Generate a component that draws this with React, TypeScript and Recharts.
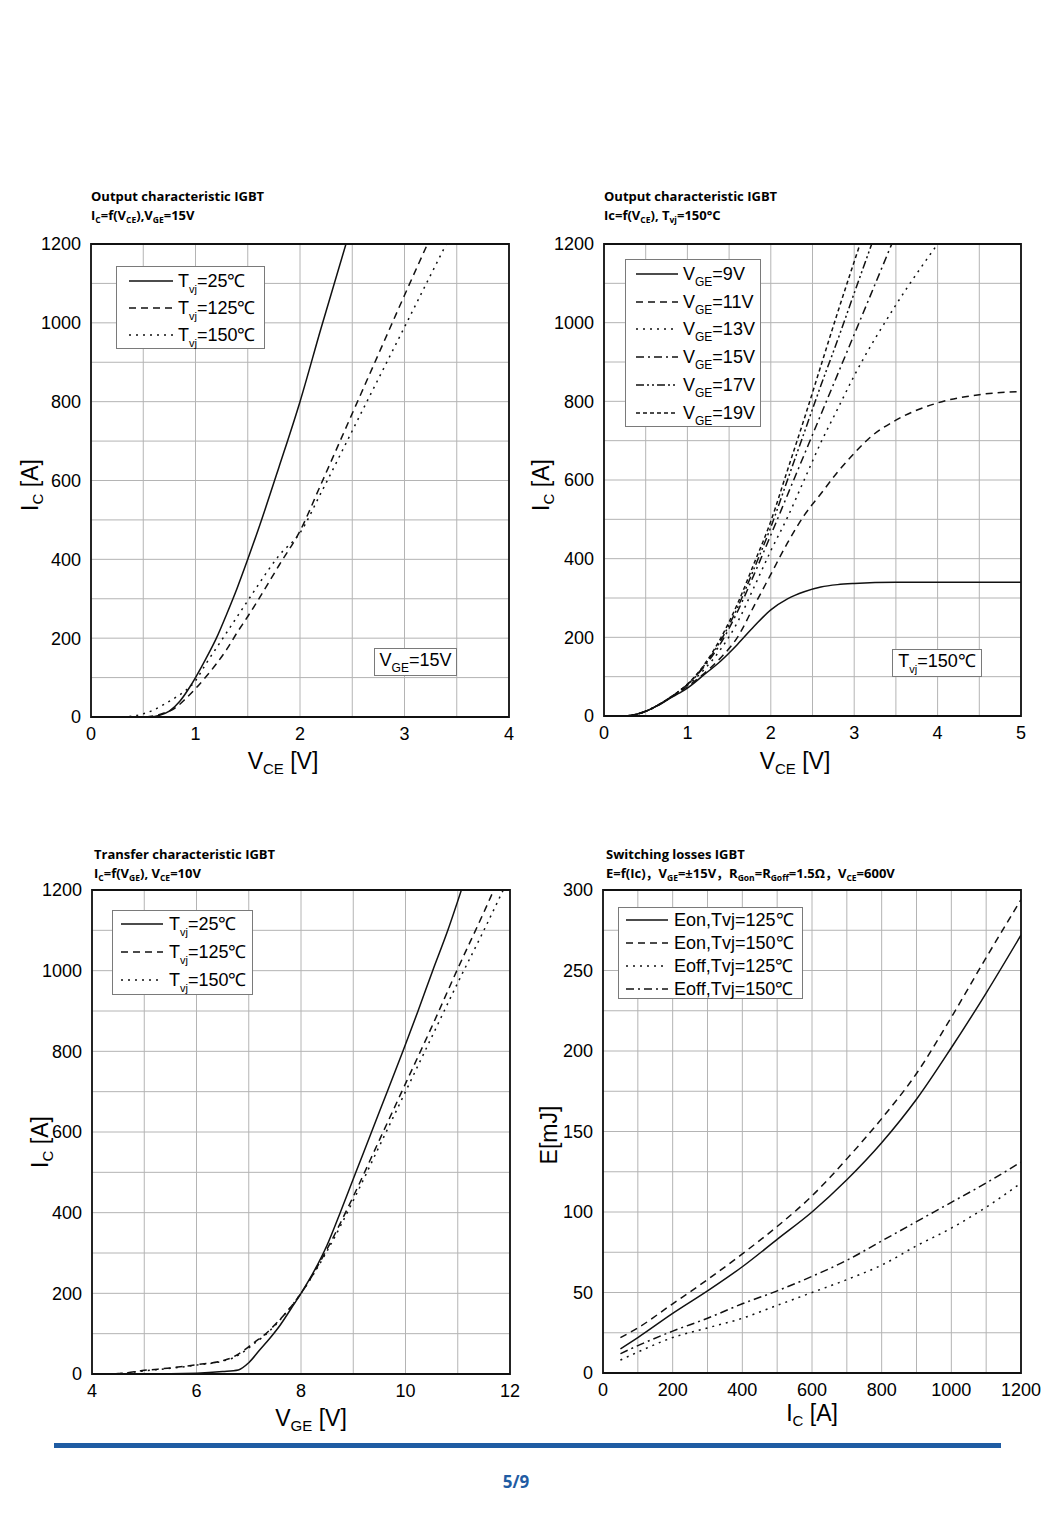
import React from "react";
import { CartesianGrid, Line, LineChart, ReferenceArea, XAxis, YAxis } from "recharts";

const AXIS_FONT = '"Liberation Sans", Arial, sans-serif';
const TITLE_FONT = '"Open Sans", "Noto Sans CJK SC", "Noto Sans", sans-serif';

// --- Output characteristic, VGE = 15V (Ic vs Vce) ---
const oc25V = [0.3, 0.55, 0.65, 0.75, 0.85, 0.95, 1.0, 1.1, 1.2, 1.3, 1.4, 1.5, 1.6, 1.8, 2.0, 2.2, 2.44];
const oc25I = [0, 0, 4, 15, 40, 78, 100, 148, 200, 262, 328, 400, 475, 635, 800, 985, 1200];
const oc125V = [0.3, 0.5, 0.6, 0.7, 0.8, 0.9, 1.0, 1.1, 1.2, 1.3, 1.4, 1.5, 1.6, 1.8, 2.0, 2.2, 2.4, 2.6, 2.8, 3.0, 3.22];
const oc125I = [0, 0, 3, 10, 22, 45, 72, 102, 135, 172, 215, 255, 297, 385, 472, 590, 710, 830, 950, 1070, 1200];
const oc150V = [0.3, 0.5, 0.6, 0.7, 0.8, 0.9, 1.0, 1.1, 1.2, 1.3, 1.4, 1.5, 1.6, 1.8, 2.0, 2.2, 2.4, 2.6, 2.8, 3.0, 3.2, 3.4];
const oc150I = [0, 8, 18, 32, 48, 66, 92, 135, 175, 215, 255, 295, 335, 410, 467, 568, 673, 779, 884, 989, 1095, 1200];

// --- Output characteristic, Tvj = 150C, per VGE ---
const vge9V = [0, 0.25, 0.4, 0.5, 0.6, 0.7, 0.8, 0.9, 1.0, 1.2, 1.4, 1.6, 1.8, 2.0, 2.2, 2.4, 2.6, 2.8, 3.0, 3.5, 4.0, 5.0];
const vge9I = [0, 0, 5, 12, 22, 33, 46, 58, 71, 105, 140, 182, 228, 270, 298, 316, 328, 334, 337, 340, 340, 340];
const vge11V = [0, 0.25, 0.4, 0.5, 0.6, 0.7, 0.8, 0.9, 1.0, 1.2, 1.4, 1.6, 1.8, 2.0, 2.2, 2.4, 2.6, 2.8, 3.0, 3.2, 3.5, 4.0, 4.5, 5.0];
const vge11I = [0, 0, 5, 12, 22, 34, 47, 60, 75, 108, 148, 200, 280, 360, 440, 510, 565, 620, 668, 710, 752, 796, 817, 825];
const vge13V = [0, 0.25, 0.4, 0.5, 0.6, 0.7, 0.8, 0.9, 1.0, 1.2, 1.4, 1.6, 1.8, 2.0, 2.2, 2.4, 2.6, 2.8, 3.0, 3.5, 4.0];
const vge13I = [0, 0, 5, 12, 22, 34, 48, 62, 78, 118, 170, 238, 328, 420, 505, 600, 695, 780, 865, 1045, 1200];
const vge15V = [0, 0.25, 0.4, 0.5, 0.6, 0.7, 0.8, 0.9, 1.0, 1.2, 1.4, 1.6, 1.8, 2.0, 2.2, 2.4, 2.6, 2.8, 3.0, 3.2, 3.45];
const vge15I = [0, 0, 5, 12, 22, 34, 48, 63, 80, 125, 185, 265, 360, 460, 562, 664, 766, 868, 970, 1072, 1200];
const vge17V = [0, 0.25, 0.4, 0.5, 0.6, 0.7, 0.8, 0.9, 1.0, 1.2, 1.4, 1.6, 1.8, 2.0, 2.2, 2.4, 2.6, 2.8, 3.0, 3.21];
const vge17I = [0, 0, 5, 12, 22, 34, 48, 63, 80, 128, 192, 275, 375, 480, 600, 720, 840, 955, 1075, 1200];
const vge19V = [0, 0.25, 0.4, 0.5, 0.6, 0.7, 0.8, 0.9, 1.0, 1.2, 1.4, 1.6, 1.8, 2.0, 2.2, 2.4, 2.6, 2.8, 3.07];
const vge19I = [0, 0, 5, 12, 22, 34, 48, 63, 81, 130, 198, 285, 388, 495, 625, 755, 890, 1025, 1200];

// --- Transfer characteristic, VCE = 10V (Ic vs Vge) ---
const tr25V = [4, 5, 6, 6.5, 6.8, 7.0, 7.2, 7.4, 7.6, 7.8, 8.0, 8.25, 8.5, 8.75, 9.05, 9.35, 9.65, 9.95, 10.24, 10.52, 10.81, 11.07];
const tr25I = [0, 0, 2, 6, 10, 28, 58, 88, 121, 160, 200, 255, 320, 400, 500, 600, 700, 800, 900, 1000, 1100, 1200];
const tr125V = [4, 4.5, 5, 5.5, 6, 6.5, 6.7, 6.9, 7.1, 7.3, 7.5, 7.7, 8.0, 8.5, 9.0, 9.5, 10.0, 10.5, 11.0, 11.5, 11.69];
const tr125I = [0, 1, 9, 15, 23, 33, 42, 58, 78, 97, 122, 150, 200, 310, 440, 580, 720, 860, 1005, 1145, 1200];
const tr150V = [4, 4.5, 5, 5.5, 6, 6.5, 6.7, 6.9, 7.1, 7.3, 7.5, 7.7, 8.0, 8.5, 9.0, 9.5, 10.0, 10.5, 11.0, 11.5, 11.87];
const tr150I = [0, 1, 8, 14, 22, 32, 40, 55, 75, 95, 120, 150, 200, 305, 430, 565, 700, 835, 970, 1100, 1200];

// --- Switching losses (E vs Ic) ---
const swIc = [50, 100, 200, 300, 400, 500, 600, 700, 800, 900, 1000, 1100, 1200];
const eon125 = [15, 22, 37, 51, 66, 83, 100, 120, 143, 170, 202, 236, 272];
const eon150 = [22, 28, 43, 58, 74, 91, 110, 133, 158, 186, 221, 258, 294];
const eoff125 = [8, 13, 22, 28, 34, 42, 50, 58, 67, 79, 90, 103, 118];
const eoff150 = [12, 17, 26, 34, 43, 51, 60, 70, 82, 94, 106, 118, 131];

const range = (from: number, to: number, step: number) => {
  const out: number[] = [];
  for (let v = from; v <= to + 1e-9; v += step) out.push(Math.round(v * 1000) / 1000);
  return out;
};

const zip = (xs: number[], ys: number[]) => xs.map((x, i) => ({ x, y: ys[i] }));

const SOLID = undefined;
const DASH = "7 5";
const DOT = "2 5";
const DASH_DOT = "8 4 2 4";
const DASH_DOT_DOT = "8 3 2 3 2 3";
const SHORT_DASH = "4 3";

const Sub = ({ children, size = 11, drop = 6 }: { children: React.ReactNode; size?: number; drop?: number }) => (
  <span style={{ fontSize: size, position: "relative", top: drop, lineHeight: 0 }}>{children}</span>
);

interface Series {
  data: { x: number; y: number }[];
  dash?: string;
}

interface PanelProps {
  left: number;
  top: number;
  width: number;
  height: number;
  marginTop: number;
  marginRight: number;
  yWidth: number;
  xHeight: number;
  xDomain: [number, number];
  xTicks: number[];
  xEvery: number;
  yDomain: [number, number];
  yTicks: number[];
  yEvery: number;
  series: Series[];
}

const every = (step: number) => (v: number) =>
  Math.abs(v / step - Math.round(v / step)) < 1e-6 ? String(v) : "";

function Panel(p: PanelProps) {
  const tick = { fontFamily: AXIS_FONT, fontSize: 18, fill: "#000" };
  return (
    <div style={{ position: "absolute", left: p.left, top: p.top }}>
      <LineChart
        width={p.width}
        height={p.height}
        margin={{ top: p.marginTop, right: p.marginRight, bottom: 0, left: 0 }}
      >
        <CartesianGrid stroke="#b4b4b4" strokeWidth={1} />
        <XAxis
          type="number"
          dataKey="x"
          domain={p.xDomain}
          ticks={p.xTicks}
          tickFormatter={every(p.xEvery)}
          height={p.xHeight}
          allowDataOverflow
          axisLine={false}
          tickLine={false}
          tickMargin={4}
          tick={tick}
          interval={0}
        />
        <YAxis
          type="number"
          dataKey="y"
          domain={p.yDomain}
          ticks={p.yTicks}
          tickFormatter={every(p.yEvery)}
          width={p.yWidth}
          allowDataOverflow
          axisLine={false}
          tickLine={false}
          tickMargin={4}
          tick={tick}
          interval={0}
        />
        {p.series.map((s, i) => (
          <Line
            key={i}
            data={s.data}
            dataKey="y"
            type="monotone"
            stroke="#111"
            strokeWidth={1.5}
            strokeDasharray={s.dash}
            dot={false}
            activeDot={false}
            isAnimationActive={false}
          />
        ))}
        <ReferenceArea
          x1={p.xDomain[0]}
          x2={p.xDomain[1]}
          y1={p.yDomain[0]}
          y2={p.yDomain[1]}
          fill="none"
          fillOpacity={0}
          stroke="#111"
          strokeWidth={1.8}
          ifOverflow="visible"
        />
      </LineChart>
    </div>
  );
}

interface LegendRow {
  dash?: string;
  label: React.ReactNode;
}

function LegendBox(props: {
  box: [number, number, number, number];
  rows: LegendRow[];
  firstY: number;
  rowH: number;
  sampleX: number;
  sampleW: number;
  textX: number;
  fontSize: number;
}) {
  const [left, top, width, height] = props.box;
  return (
    <div
      style={{
        position: "absolute",
        left,
        top,
        width,
        height,
        border: "1px solid #7a7a7a",
        background: "#fff",
        boxSizing: "border-box",
        fontFamily: AXIS_FONT,
      }}
    >
      {props.rows.map((r, i) => (
        <div key={i} style={{ position: "absolute", left: 0, top: props.firstY + i * props.rowH - 14, height: 28, width: "100%" }}>
          <svg style={{ position: "absolute", left: props.sampleX, top: 12 }} width={props.sampleW} height={4}>
            <line x1={0} y1={2} x2={props.sampleW} y2={2} stroke="#111" strokeWidth={1.5} strokeDasharray={r.dash} />
          </svg>
          <div style={{ position: "absolute", left: props.textX, top: 0, lineHeight: "28px", fontSize: props.fontSize, whiteSpace: "nowrap" }}>
            {r.label}
          </div>
        </div>
      ))}
    </div>
  );
}

function Note({ left, top, width, height, children }: { left: number; top: number; width: number; height: number; children: React.ReactNode }) {
  return (
    <div
      style={{
        position: "absolute",
        left,
        top,
        width,
        height,
        border: "1px solid #7a7a7a",
        background: "#fff",
        boxSizing: "border-box",
        fontFamily: AXIS_FONT,
        fontSize: 18,
        lineHeight: `${height - 6}px`,
        textAlign: "center",
        whiteSpace: "nowrap",
      }}
    >
      {children}
    </div>
  );
}

function Title({ left, top, children }: { left: number; top: number; children: React.ReactNode }) {
  return (
    <div style={{ position: "absolute", left, top, fontFamily: TITLE_FONT, fontWeight: 700, fontSize: 13, lineHeight: "19px", whiteSpace: "nowrap" }}>
      {children}
    </div>
  );
}

function AxisTitle({ x, y, rotate, children }: { x: number; y: number; rotate?: boolean; children: React.ReactNode }) {
  return (
    <div
      style={{
        position: "absolute",
        left: x,
        top: y,
        transform: `translate(-50%, -50%)${rotate ? " rotate(-90deg)" : ""}`,
        fontFamily: AXIS_FONT,
        fontSize: 23,
        whiteSpace: "nowrap",
        lineHeight: "26px",
      }}
    >
      {children}
    </div>
  );
}

const ts = { size: 8.5, drop: 3 };

export default function App() {
  const tvjRows = (dashes: (string | undefined)[]) => [
    { dash: dashes[0], label: <>T<Sub>vj</Sub>=25℃</> },
    { dash: dashes[1], label: <>T<Sub>vj</Sub>=125℃</> },
    { dash: dashes[2], label: <>T<Sub>vj</Sub>=150℃</> },
  ];
  const vgeRows: LegendRow[] = [
    { dash: SOLID, label: <>V<Sub size={12}>GE</Sub>=9V</> },
    { dash: DASH, label: <>V<Sub size={12}>GE</Sub>=11V</> },
    { dash: DOT, label: <>V<Sub size={12}>GE</Sub>=13V</> },
    { dash: DASH_DOT, label: <>V<Sub size={12}>GE</Sub>=15V</> },
    { dash: DASH_DOT_DOT, label: <>V<Sub size={12}>GE</Sub>=17V</> },
    { dash: SHORT_DASH, label: <>V<Sub size={12}>GE</Sub>=19V</> },
  ];
  const swRows: LegendRow[] = [
    { dash: SOLID, label: "Eon,Tvj=125℃" },
    { dash: DASH, label: "Eon,Tvj=150℃" },
    { dash: DOT, label: "Eoff,Tvj=125℃" },
    { dash: DASH_DOT, label: "Eoff,Tvj=150℃" },
  ];

  return (
    <div style={{ position: "absolute", left: 0, top: 0, width: 1060, height: 1531, background: "#fff", overflow: "hidden" }}>
      {/* Titles */}
      <Title left={91} top={187}>
        Output characteristic IGBT
        <br />
        I<Sub {...ts}>C</Sub>=f(V<Sub {...ts}>CE</Sub>),V<Sub {...ts}>GE</Sub>=15V
      </Title>
      <Title left={604} top={187}>
        Output characteristic IGBT
        <br />
        Ic=f(V<Sub {...ts}>CE</Sub>), T<Sub {...ts}>vj</Sub>=150°C
      </Title>
      <Title left={94} top={845}>
        Transfer characteristic IGBT
        <br />
        I<Sub {...ts}>C</Sub>=f(V<Sub {...ts}>GE</Sub>), V<Sub {...ts}>CE</Sub>=10V
      </Title>
      <Title left={606} top={845}>
        Switching losses IGBT
        <br />
        E=f(Ic)，V<Sub {...ts}>GE</Sub>=±15V，R<Sub {...ts}>Gon</Sub>=R<Sub {...ts}>Goff</Sub>=1.5Ω，V<Sub {...ts}>CE</Sub>=600V
      </Title>

      {/* Chart 1 */}
      <Panel
        left={0}
        top={230}
        width={530}
        height={560}
        marginTop={14}
        marginRight={21}
        yWidth={91}
        xHeight={73}
        xDomain={[0, 4]}
        xTicks={range(0, 4, 0.5)}
        xEvery={1}
        yDomain={[0, 1200]}
        yTicks={range(0, 1200, 100)}
        yEvery={200}
        series={[
          { data: zip(oc25V, oc25I), dash: SOLID },
          { data: zip(oc125V, oc125I), dash: DASH },
          { data: zip(oc150V, oc150I), dash: DOT },
        ]}
      />
      <LegendBox box={[116, 266, 149, 83]} rows={tvjRows([SOLID, DASH, DOT])} firstY={14} rowH={27} sampleX={12} sampleW={44} textX={61} fontSize={18} />
      <Note left={374} top={648} width={83} height={28}>
        V<Sub size={12}>GE</Sub>=15V
      </Note>
      <AxisTitle x={30} y={485} rotate>
        I<Sub size={15} drop={5}>C</Sub> [A]
      </AxisTitle>
      <AxisTitle x={283} y={761}>
        V<Sub size={15} drop={5}>CE</Sub> [V]
      </AxisTitle>

      {/* Chart 2 */}
      <Panel
        left={520}
        top={230}
        width={540}
        height={560}
        marginTop={14}
        marginRight={39}
        yWidth={84}
        xHeight={74}
        xDomain={[0, 5]}
        xTicks={range(0, 5, 0.5)}
        xEvery={1}
        yDomain={[0, 1200]}
        yTicks={range(0, 1200, 100)}
        yEvery={200}
        series={[
          { data: zip(vge9V, vge9I), dash: SOLID },
          { data: zip(vge11V, vge11I), dash: DASH },
          { data: zip(vge13V, vge13I), dash: DOT },
          { data: zip(vge15V, vge15I), dash: DASH_DOT },
          { data: zip(vge17V, vge17I), dash: DASH_DOT_DOT },
          { data: zip(vge19V, vge19I), dash: SHORT_DASH },
        ]}
      />
      <LegendBox box={[625, 259, 136, 168]} rows={vgeRows} firstY={14} rowH={27.7} sampleX={10} sampleW={42} textX={57} fontSize={18} />
      <Note left={892} top={649} width={90} height={28}>
        T<Sub>vj</Sub>=150℃
      </Note>
      <AxisTitle x={541} y={485} rotate>
        I<Sub size={15} drop={5}>C</Sub> [A]
      </AxisTitle>
      <AxisTitle x={795} y={761}>
        V<Sub size={15} drop={5}>CE</Sub> [V]
      </AxisTitle>

      {/* Chart 3 */}
      <Panel
        left={0}
        top={870}
        width={530}
        height={580}
        marginTop={20}
        marginRight={20}
        yWidth={92}
        xHeight={76}
        xDomain={[4, 12]}
        xTicks={range(4, 12, 1)}
        xEvery={2}
        yDomain={[0, 1200]}
        yTicks={range(0, 1200, 100)}
        yEvery={200}
        series={[
          { data: zip(tr25V, tr25I), dash: SOLID },
          { data: zip(tr125V, tr125I), dash: DASH },
          { data: zip(tr150V, tr150I), dash: DOT },
        ]}
      />
      <LegendBox box={[112, 910, 141, 85]} rows={tvjRows([SOLID, DASH, DOT])} firstY={13} rowH={28} sampleX={8} sampleW={42} textX={56} fontSize={18} />
      <AxisTitle x={40} y={1142} rotate>
        I<Sub size={15} drop={5}>C</Sub> [A]
      </AxisTitle>
      <AxisTitle x={311} y={1418}>
        V<Sub size={15} drop={5}>GE</Sub> [V]
      </AxisTitle>

      {/* Chart 4 */}
      <Panel
        left={520}
        top={870}
        width={540}
        height={580}
        marginTop={20}
        marginRight={39}
        yWidth={83}
        xHeight={77}
        xDomain={[0, 1200]}
        xTicks={range(0, 1200, 100)}
        xEvery={200}
        yDomain={[0, 300]}
        yTicks={range(0, 300, 25)}
        yEvery={50}
        series={[
          { data: zip(swIc, eon125), dash: SOLID },
          { data: zip(swIc, eon150), dash: DASH },
          { data: zip(swIc, eoff125), dash: DOT },
          { data: zip(swIc, eoff150), dash: DASH_DOT },
        ]}
      />
      <LegendBox box={[618, 907, 185, 92]} rows={swRows} firstY={12} rowH={23} sampleX={7} sampleW={42} textX={55} fontSize={18} />
      <AxisTitle x={549} y={1135} rotate>
        E[mJ]
      </AxisTitle>
      <AxisTitle x={812} y={1413}>
        I<Sub size={15} drop={5}>C</Sub> [A]
      </AxisTitle>

      {/* Footer */}
      <div style={{ position: "absolute", left: 54, top: 1443, width: 947, height: 5, background: "#1f5ca3" }} />
      <div
        style={{
          position: "absolute",
          left: 0,
          width: 1060,
          top: 1470,
          textAlign: "center",
          fontFamily: TITLE_FONT,
          fontWeight: 700,
          fontSize: 17,
          color: "#1f5ca3",
        }}
      >
        <span style={{ position: "relative", left: -14 }}>5/9</span>
      </div>
    </div>
  );
}
